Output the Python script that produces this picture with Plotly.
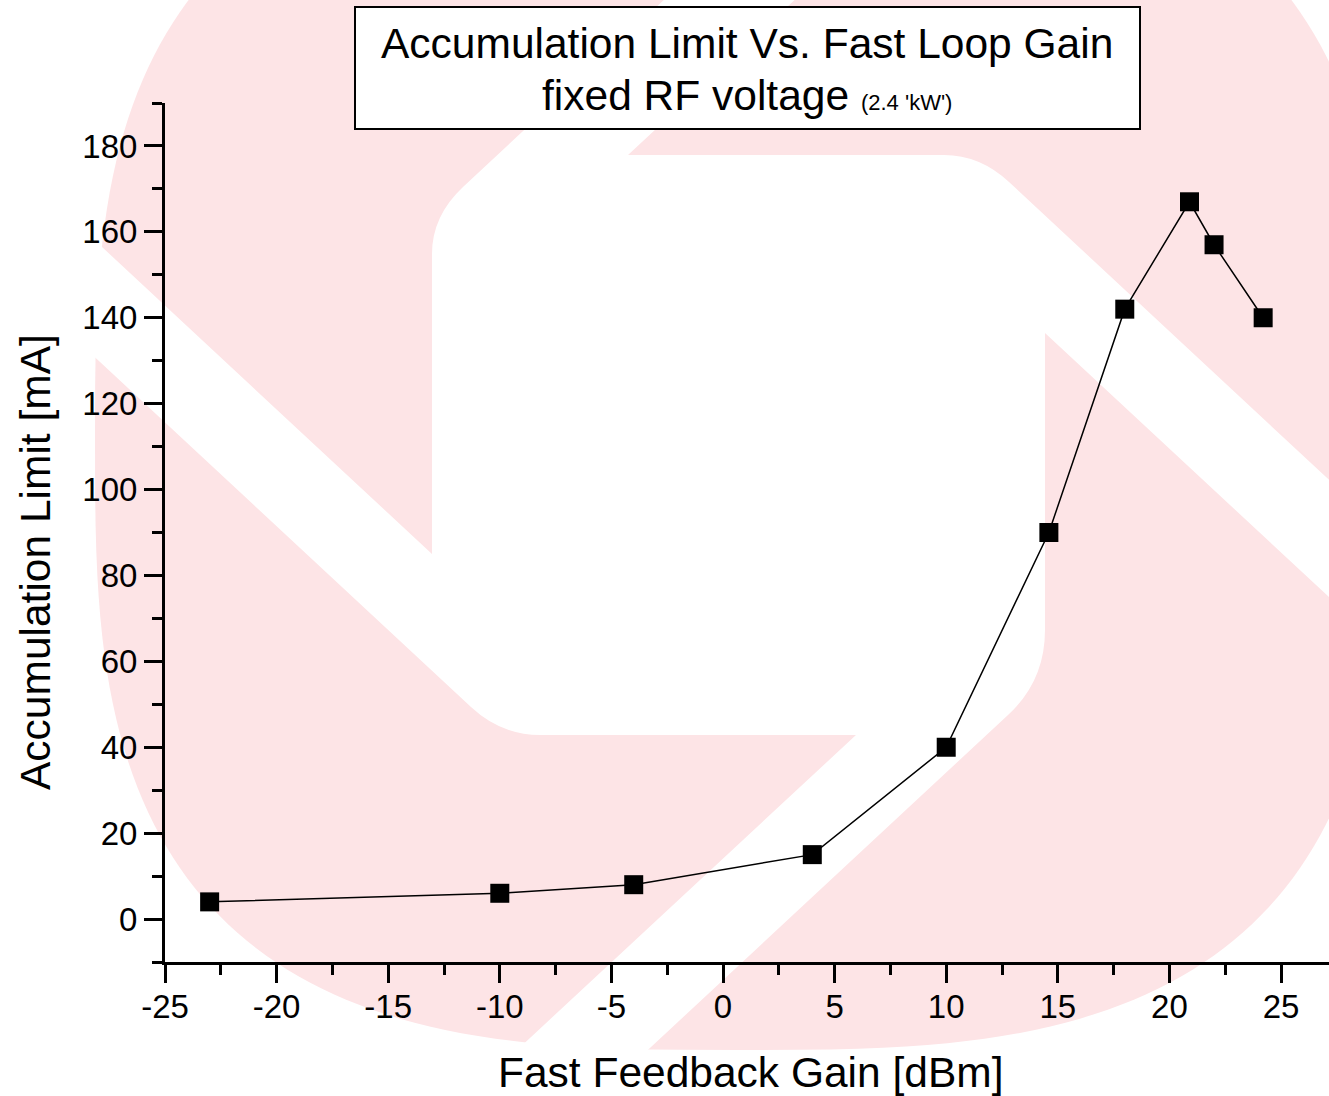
import numpy as np
import plotly.graph_objects as go

# ---------------- data ----------------
gain_dbm = [-23, -10, -4, 4, 10, 14.6, 18, 20.9, 22, 24.2]
accum_limit_ma = [4, 6, 8, 15, 40, 90, 142, 167, 157, 140]

x_tick_vals = [-25, -20, -15, -10, -5, 0, 5, 10, 15, 20, 25]
x_tick_text = ["-25", "-20", "-15", "-10", "-5", "0", "5", "10", "15", "20", "25"]
y_tick_vals = [0, 20, 40, 60, 80, 100, 120, 140, 160, 180]

title_line1 = "Accumulation Limit Vs. Fast Loop Gain"
title_line2 = "fixed RF voltage"
title_note = "(2.4 'kW')"
x_title = "Fast Feedback Gain [dBm]"
y_title = "Accumulation Limit [mA]"

# ---------------- layout geometry (pixels) ----------------
W, H = 1329, 1096
PL, PR, PT, PB = 165, 1329, 103, 962  # plot area edges in px
FONT = "Liberation Sans, Arial, Helvetica, sans-serif"
PINK = "#fde4e6"
BIG = 42.5


def px(xp):
    return (xp - PL) / (PR - PL)


def py(yp):
    return (PB - yp) / (PB - PT)


def pt(xp, yp):
    return f"{px(xp):.5f},{py(yp):.5f}"


# watermark: superellipse disc
cx, cy, a, b, n = 740, 440, 645, 610, 3.0
t = np.linspace(0, 2 * np.pi, 241)
ct, st = np.cos(t), np.sin(t)
ex = cx + a * np.sign(ct) * np.abs(ct) ** (2 / n)
ey = cy + b * np.sign(st) * np.abs(st) ** (2 / n)
disc_path = "M" + " L".join(pt(x, y) for x, y in zip(ex, ey)) + " Z"

# white pinwheel (central square with four bands)
wp = (
    f"M{pt(986, -300)} L{pt(1117, -300)} L{pt(628, 155)} L{pt(944, 155)} "
    f"Q{pt(980, 155)} {pt(1009, 182)} "
    f"L{pt(1600, 732)} L{pt(1600, 849)} L{pt(1045, 333)} L{pt(1045, 630)} "
    f"Q{pt(1045, 681)} {pt(1008, 715)} "
    f"L{pt(379, 1300)} L{pt(248, 1300)} L{pt(856, 735)} L{pt(540, 735)} "
    f"Q{pt(501, 735)} {pt(471, 707)} "
    f"L{pt(-200, 83)} L{pt(-200, -34)} L{pt(432, 554)} L{pt(432, 254)} "
    f"Q{pt(432, 216)} {pt(463, 187)} Z"
)

shapes = [
    dict(type="path", path=disc_path, xref="paper", yref="paper",
         fillcolor=PINK, line=dict(width=0), layer="below"),
    dict(type="path", path=wp, xref="paper", yref="paper",
         fillcolor="white", line=dict(width=0), layer="below"),
    dict(type="rect", xref="paper", yref="paper",
         x0=px(355), x1=px(1140), y0=py(129), y1=py(7),
         fillcolor="white", line=dict(color="black", width=2), layer="below"),
]

fig = go.Figure()
fig.add_trace(go.Scatter(
    x=gain_dbm, y=accum_limit_ma, mode="lines+markers",
    line=dict(color="black", width=1.5),
    marker=dict(symbol="square", size=19, color="black"),
    showlegend=False, cliponaxis=False,
))

axis_common = dict(
    showline=True, linecolor="black", linewidth=3,
    ticks="outside", ticklen=18, tickwidth=3, tickcolor="black",
    showgrid=False, zeroline=False,
    tickfont=dict(family=FONT, size=33, color="black"),
)

fig.update_xaxes(
    range=[-25, 27.15], tickmode="array", tickvals=x_tick_vals, ticktext=x_tick_text,
    ticklabelstandoff=-5,
    minor=dict(tickmode="linear", tick0=-25, dtick=2.5, ticklen=10, tickwidth=2.5,
               tickcolor="black", ticks="outside"),
    **axis_common,
)
fig.update_yaxes(
    range=[-10, 190], tickmode="array", tickvals=y_tick_vals,
    ticktext=[str(v) for v in y_tick_vals],
    minor=dict(tickmode="linear", tick0=0, dtick=10, ticklen=10, tickwidth=2.5,
               tickcolor="black", ticks="outside"),
    **axis_common,
)

annotations = [
    dict(text=title_line1, x=px(747), y=py(44), xref="paper", yref="paper",
         showarrow=False, xanchor="center", yanchor="middle",
         font=dict(family=FONT, size=BIG, color="black")),
    dict(text=f"{title_line2} <span style='font-size:22px'>{title_note}</span>",
         x=px(747), y=py(96), xref="paper", yref="paper",
         showarrow=False, xanchor="center", yanchor="middle",
         font=dict(family=FONT, size=BIG, color="black")),
    dict(text=x_title, x=px(751), y=py(1072), xref="paper", yref="paper",
         showarrow=False, xanchor="center", yanchor="middle",
         font=dict(family=FONT, size=BIG, color="black")),
    dict(text=y_title, x=px(35), y=py(562), xref="paper", yref="paper",
         showarrow=False, xanchor="center", yanchor="middle", textangle=-90,
         font=dict(family=FONT, size=BIG, color="black")),
]

fig.update_layout(
    width=W, height=H,
    margin=dict(l=PL, r=W - PR, t=PT, b=H - PB, pad=0),
    paper_bgcolor="white", plot_bgcolor="rgba(0,0,0,0)",
    shapes=shapes, annotations=annotations,
    font=dict(family=FONT, color="black"),
)

fig.write_html("out.html")
